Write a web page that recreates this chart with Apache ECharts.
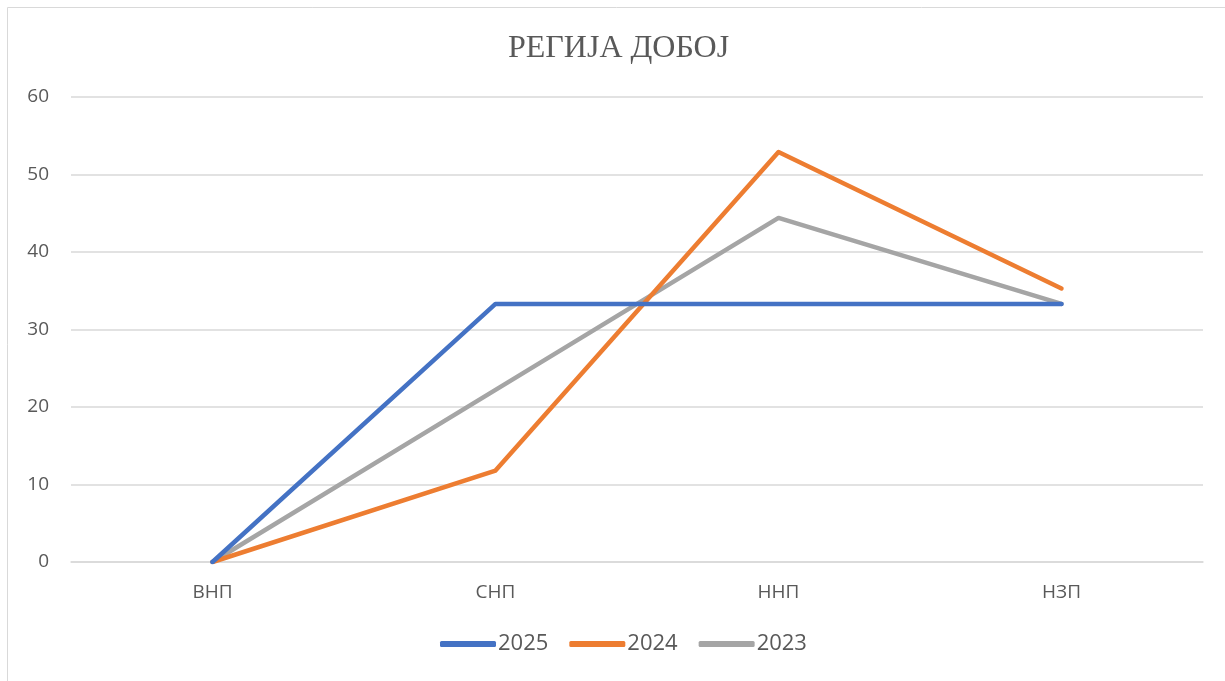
<!DOCTYPE html>
<html>
<head>
<meta charset="utf-8">
<script src="https://cdn.jsdelivr.net/npm/echarts@6/dist/echarts.min.js"></script>
<style>
html,body{margin:0;padding:0;background:#fff;}
#chart{width:1225px;height:681px;}
</style>
</head>
<body>
<div id="chart"></div>
<script>
// категорије и вриједности
var categories = ['ВНП', 'СНП', 'ННП', 'НЗП'];
var legendNames = ['2025', '2024', '2023'];
var data2025 = [0, 33.3, 33.3, 33.3];
var data2024 = [0, 11.8, 52.9, 35.3];
var data2023 = [0, 22.2, 44.4, 33.3];
var yTicks = [0, 10, 20, 30, 40, 50, 60];

var colors = ['#4472C4', '#ED7D31', '#A5A5A5'];
var seriesData = [data2025, data2024, data2023];

var myChart = echarts.init(document.getElementById('chart'));
var option = {
    animation: false,
    color: colors,
    title: {
        text: 'РЕГИЈА ДОБОЈ',
        left: 503,
        top: 28,
        textStyle: {
            fontFamily: 'Liberation Serif',
            fontSize: 32,
            fontWeight: 'normal',
            color: '#595959'
        }
    },
    graphic: [{
        type: 'rect',
        shape: {x: 7.5, y: 7.5, width: 1400, height: 900},
        style: {fill: 'none', stroke: '#d9d9d9', lineWidth: 1},
        silent: true
    }],
    legend: {
        data: legendNames,
        bottom: 21,
        left: 435,
        itemWidth: 56,
        itemHeight: 6,
        itemGap: 21,
        icon: 'roundRect',
        textStyle: {
            fontFamily: 'Open Sans',
            fontSize: 22,
            color: '#595959',
            padding: [0, 0, 0, -3]
        }
    },
    grid: {
        left: 71,
        right: 22,
        top: 97,
        bottom: 119,
        containLabel: false
    },
    xAxis: {
        type: 'category',
        data: categories,
        boundaryGap: true,
        axisLine: {show: true, lineStyle: {color: '#d9d9d9', width: 1.5}},
        axisTick: {show: false},
        axisLabel: {
            margin: 21,
            fontFamily: 'Open Sans',
            fontSize: 19,
            color: '#595959'
        }
    },
    yAxis: {
        type: 'value',
        min: yTicks[0],
        max: yTicks[yTicks.length - 1],
        interval: 10,
        axisLine: {show: false},
        axisTick: {show: false},
        splitLine: {lineStyle: {color: '#d9d9d9', width: 1.5}},
        axisLabel: {
            margin: 22,
            fontFamily: 'Open Sans',
            fontSize: 19,
            color: '#595959'
        }
    },
    series: function () {
        var serie = [];
        for (var i = 0; i < legendNames.length; i++) {
            serie.push({
                name: legendNames[i],
                type: 'line',
                data: seriesData[i],
                symbol: 'none',
                lineStyle: {width: 4.5, cap: 'round', join: 'round'},
                z: 2 + (legendNames.length - i)
            });
        }
        return serie;
    }()
};
myChart.setOption(option);
</script>
</body>
</html>
